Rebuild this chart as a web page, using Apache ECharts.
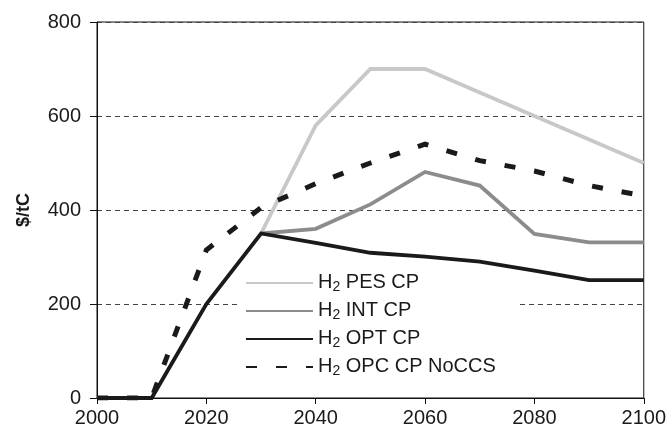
<!DOCTYPE html>
<html>
<head>
<meta charset="utf-8">
<script src="https://cdn.jsdelivr.net/npm/echarts@6/dist/echarts.min.js"></script>
<style>
  html, body { margin: 0; padding: 0; background: #fff; }
  #chart { width: 669px; height: 436px; }
</style>
</head>
<body>
<div id="chart"></div>
<script>
// Carbon price paths ($/tC), one value per decade
const years = [2000, 2010, 2020, 2030, 2040, 2050, 2060, 2070, 2080, 2090, 2100];
const pesCP    = [null, null, null, 350, 580, 700, 700, 650, 600, 550, 500];
const intCP    = [null, null, null, 350, 360, 412, 481, 452, 349, 331, 331];
const optCP    = [0, 0, 200, 350, 330, 309, 301, 290, 271, 251, 251];
const opcNoCCS = [0, 0, 315, 405, 456, 500, 540, 505, 483, 452, 430];

const seriesNames = ['H2 PES CP', 'H2 INT CP', 'H2 OPT CP', 'H2 OPC CP NoCCS'];
const yTicks = [0, 200, 400, 600, 800];
const xTicks = [2000, 2020, 2040, 2060, 2080, 2100];

const pairs = vals => years.map((y, i) => [y, vals[i]]).filter(p => p[1] !== null);

const FONT = '"Liberation Sans", Arial, Helvetica, sans-serif';

const chart = echarts.init(document.getElementById('chart'), null, { renderer: 'canvas' });

function lineSeries(name, vals, color, width, dash) {
  return {
    name: name,
    type: 'line',
    z: 3,
    data: pairs(vals),
    symbol: 'none',
    showSymbol: false,
    lineStyle: { color: color, width: width, type: dash || 'solid', cap: 'butt', join: 'miter' },
    itemStyle: { color: color },
    emphasis: { disabled: true },
    animation: false
  };
}

chart.setOption({
  animation: false,
  backgroundColor: '#fff',
  grid: {
    left: 97, right: 24, top: 22, bottom: 38,
    show: true, borderColor: '#111', borderWidth: 1, backgroundColor: 'transparent'
  },
  legend: {
    orient: 'vertical',
    z: 1,
    left: 237,
    top: 264,
    padding: [4, 22, 6, 8],
    backgroundColor: '#fff',
    itemWidth: 67,
    itemHeight: 14,
    itemGap: 2,
    data: seriesNames,
    // line-only keys: hide the marker the line legend adds by default
    itemStyle: { opacity: 0 },
    formatter: name => '{n|H}{s|2}{n|' + name.slice(2) + '}',
    textStyle: {
      fontFamily: FONT,
      color: '#1a1a1a',
      rich: {
        n: { fontFamily: FONT, fontSize: 20, lineHeight: 22, verticalAlign: 'top', color: '#1a1a1a' },
        s: { fontFamily: FONT, fontSize: 14, lineHeight: 14, padding: [12, 0, 0, 0], verticalAlign: 'bottom', color: '#1a1a1a' }
      }
    }
  },
  xAxis: {
    type: 'value',
    min: 2000, max: 2100, interval: 20,
    axisLine: { show: true, lineStyle: { color: '#111', width: 1 } },
    axisTick: { show: true, length: 6, lineStyle: { color: '#111' }, customValues: xTicks },
    axisLabel: {
      fontFamily: FONT, fontSize: 20, color: '#1a1a1a', margin: 10,
      customValues: xTicks, formatter: v => String(v)
    },
    splitLine: { show: false }
  },
  yAxis: {
    type: 'value',
    min: 0, max: 800, interval: 200,
    name: '$/tC',
    nameLocation: 'middle',
    nameGap: 64,
    nameTextStyle: { fontFamily: FONT, fontSize: 18, fontWeight: 'bold', color: '#1a1a1a' },
    axisLine: { show: true, lineStyle: { color: '#111', width: 1 } },
    axisTick: { show: true, length: 7, lineStyle: { color: '#111' }, customValues: yTicks },
    axisLabel: {
      fontFamily: FONT, fontSize: 20, color: '#1a1a1a', margin: 16,
      customValues: yTicks, formatter: v => String(v)
    },
    splitLine: { show: true, lineStyle: { color: '#444', width: 1, type: [5, 4] } }
  },
  series: [
    lineSeries(seriesNames[0], pesCP, '#c8c8c8', 3.8),
    lineSeries(seriesNames[1], intCP, '#8c8c8c', 3.8),
    lineSeries(seriesNames[2], optCP, '#1a1a1a', 3.8),
    lineSeries(seriesNames[3], opcNoCCS, '#1a1a1a', 5, [11, 19])
  ]
});
</script>
</body>
</html>
